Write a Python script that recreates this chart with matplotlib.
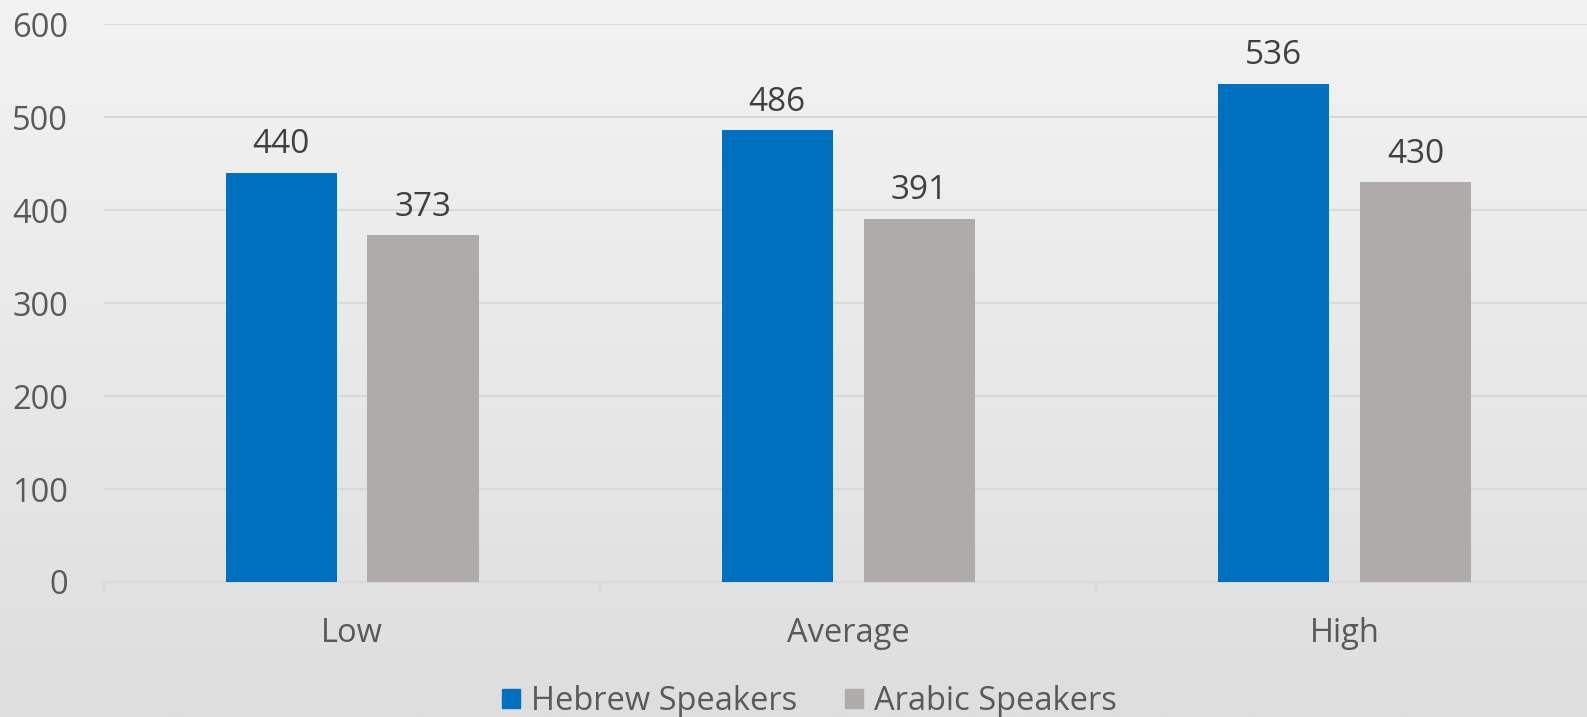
import numpy as np
import matplotlib.pyplot as plt
from matplotlib.patches import Patch

plt.rcParams["font.family"] = ["Open Sans", "DejaVu Sans"]

# Data
CATEGORIES = ["Low", "Average", "High"]
HEBREW = [440, 486, 536]
ARABIC = [373, 391, 430]
SERIES_NAMES = ["Hebrew Speakers", "Arabic Speakers"]
YTICKS = [0, 100, 200, 300, 400, 500, 600]

BLUE = "#0070C0"
GRAY = "#AFABAB"
TICK_COLOR = "#595959"
LABEL_COLOR = "#404040"
GRID_COLOR = "#D9D9D9"

fig = plt.figure(figsize=(15.87, 7.17), dpi=100)

# vertical background gradient
bg = fig.add_axes([0, 0, 1, 1], zorder=-10)
grad = np.linspace(0, 1, 256).reshape(-1, 1)
top = np.array([243, 243, 243]) / 255
bot = np.array([223, 222, 223]) / 255
img = top + (bot - top) * grad[:, :, None]
bg.imshow(img, aspect="auto", extent=[0, 1, 0, 1], origin="upper")
bg.axis("off")

ax = fig.add_axes([0.0655, 0.1883, 0.938, 0.7777])
ax.patch.set_alpha(0)

x = np.arange(len(CATEGORIES))
w = 0.224
off = 0.143
b1 = ax.bar(x - off, HEBREW, w, color=BLUE, zorder=3)
b2 = ax.bar(x + off, ARABIC, w, color=GRAY, zorder=3)

for bars, vals in ((b1, HEBREW), (b2, ARABIC)):
    for rect, v in zip(bars, vals):
        ax.annotate(str(v), (rect.get_x() + rect.get_width() / 2, v),
                    xytext=(0, 8.5), textcoords="offset points",
                    ha="center", va="bottom", fontsize=24, color=LABEL_COLOR)

ax.set_xlim(-0.5, len(CATEGORIES) - 0.5)
ax.set_ylim(0, 600)
ax.set_yticks(YTICKS)
ax.set_yticklabels([str(t) for t in YTICKS])
ax.yaxis.grid(True, color=GRID_COLOR, linewidth=1.5, zorder=0)
ax.tick_params(axis="y", length=0, pad=26, labelsize=23.5, labelcolor=TICK_COLOR)

# category labels centered, boundary ticks between categories
ax.set_xticks(x)
ax.set_xticklabels(CATEGORIES)
ax.tick_params(axis="x", length=0, pad=25, labelsize=23.5, labelcolor=TICK_COLOR)
ax.set_xticks(np.arange(-0.5, len(CATEGORIES)), minor=True)
ax.tick_params(axis="x", which="minor", length=8, width=1.5, color=GRID_COLOR)

for s in ("top", "right", "left"):
    ax.spines[s].set_visible(False)
ax.spines["bottom"].set_color(GRID_COLOR)
ax.spines["bottom"].set_linewidth(1.5)

handles = [Patch(color=BLUE), Patch(color=GRAY)]
fig.legend(handles, SERIES_NAMES, loc="center", bbox_to_anchor=(0.51, 0.0215),
           ncol=2, frameon=False, fontsize=23.5, labelcolor=TICK_COLOR,
           handlelength=0.55, handleheight=0.55, handletextpad=0.35,
           columnspacing=1.45, borderpad=0)

fig.savefig("out.png", dpi=100)
